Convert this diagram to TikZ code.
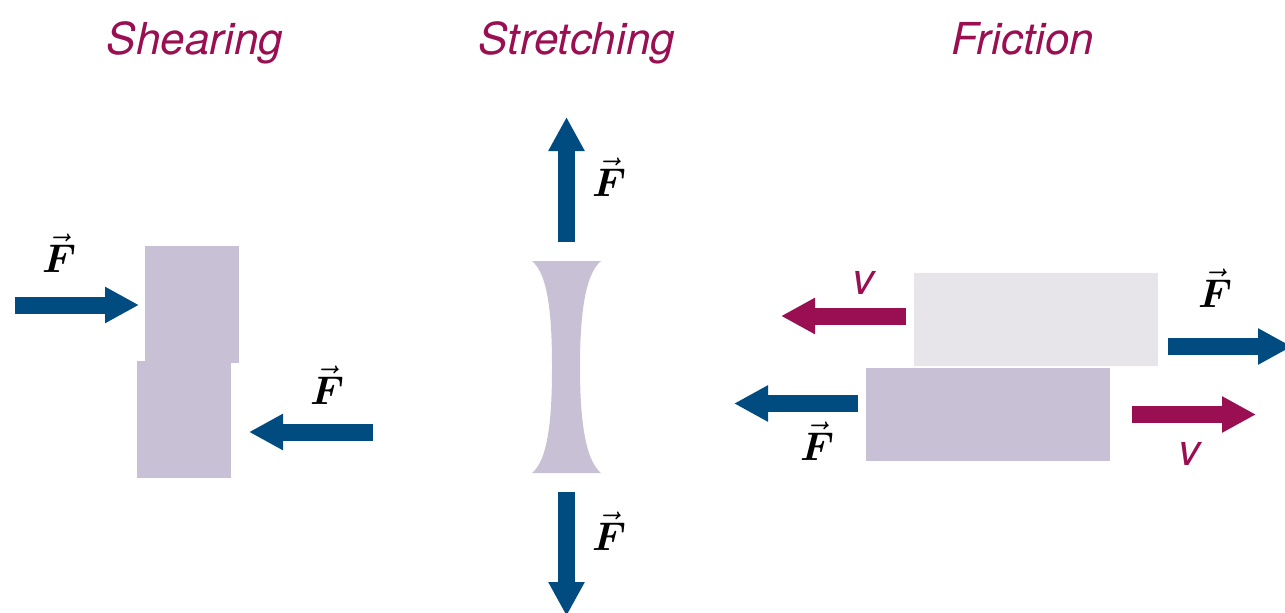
\documentclass[tikz,border=0pt]{standalone}
\usepackage{amsmath}
\usepackage{fontspec}
\setsansfont{TeX Gyre Heros}
\usetikzlibrary{arrows.meta}
\definecolor{fblue}{RGB}{0,75,128}
\definecolor{vmag}{RGB}{153,15,82}
\definecolor{lav}{RGB}{200,193,214}
\definecolor{lightlav}{RGB}{231,228,234}
\tikzset{
  title/.style={font=\sffamily\itshape\fontsize{44}{48}\selectfont, text=vmag, anchor=base, inner sep=0pt},
  vlab/.style={font=\sffamily\itshape\fontsize{44}{48}\selectfont, text=vmag, inner sep=0pt},
  flab/.style={inner sep=0pt},
  block/.style={fill=lav, draw=none, inner sep=0pt},
  lightblock/.style={fill=lightlav, draw=none, inner sep=0pt},
  bigarrow/.style={line width=17pt, line cap=butt, -{Triangle[length=34pt,width=34pt]}},
  farrow/.style={bigarrow, draw=fblue},
  varrow/.style={bigarrow, draw=vmag},
}
\newcommand{\Fvec}{\scalebox{4}{$\vec{\boldsymbol{F}}$}}
\begin{document}
\begin{tikzpicture}[x=1pt,y=-1pt]
\useasboundingbox (0,0) rectangle (1285,613);
\clip (0,0) rectangle (1285,613);
% titles
\node[title] (t1) at (195,54) {Shearing};
\node[title] (t2) at (577,54) {Stretching};
\node[title] (t3) at (1023,54) {Friction};

% ---------- Shearing ----------
\node[block, minimum width=94pt, minimum height=117pt] (sh1) at (192,304.5) {};
\node[block, minimum width=94pt, minimum height=117pt] (sh2) at (184,419.5) {};
\coordinate (a1s) at (15,305);
\coordinate (a1e) at (139,305);
\draw[farrow] (a1s) -- (a1e);
\coordinate (a2s) at (373,432);
\coordinate (a2e) at (249,432);
\draw[farrow] (a2s) -- (a2e);
\node[flab] (f1) at (59,253) {\Fvec};
\node[flab] (f2) at (327,385) {\Fvec};

% ---------- Stretching ----------
\fill[lav] (532,261) -- (601,261)
  .. controls (584,275) and (580,320) .. (580,367)
  .. controls (580,414) and (584,459) .. (601,473)
  -- (532,473)
  .. controls (549,459) and (552,414) .. (552,367)
  .. controls (552,320) and (549,275) .. (532,261) -- cycle;
\coordinate (b1s) at (566.5,242);
\coordinate (b1e) at (566.5,117);
\draw[farrow] (b1s) -- (b1e);
\coordinate (b2s) at (566.5,492);
\coordinate (b2e) at (566.5,616);
\draw[farrow] (b2s) -- (b2e);
\node[flab] (f3) at (609,177) {\Fvec};
\node[flab] (f4) at (609,531) {\Fvec};

% ---------- Friction ----------
\node[lightblock, minimum width=244pt, minimum height=93pt] (fr1) at (1036,319.5) {};
\node[block, minimum width=244pt, minimum height=93pt] (fr2) at (988,414.5) {};
\coordinate (c1s) at (906,316);
\coordinate (c1e) at (781,316);
\draw[varrow] (c1s) -- (c1e);
\coordinate (c2s) at (1168,346.5);
\coordinate (c2e) at (1292,346.5);
\draw[farrow] (c2s) -- (c2e);
\coordinate (c3s) at (858,403.5);
\coordinate (c3e) at (734,403.5);
\draw[farrow] (c3s) -- (c3e);
\coordinate (c4s) at (1131.5,414.5);
\coordinate (c4e) at (1256,414.5);
\draw[varrow] (c4s) -- (c4e);
\node[vlab] (v1) at (863,283) {v};
\node[vlab] (v2) at (1189,454) {v};
\node[flab] (f5) at (1215,288) {\Fvec};
\node[flab] (f6) at (817,441) {\Fvec};
\end{tikzpicture}
\end{document}
